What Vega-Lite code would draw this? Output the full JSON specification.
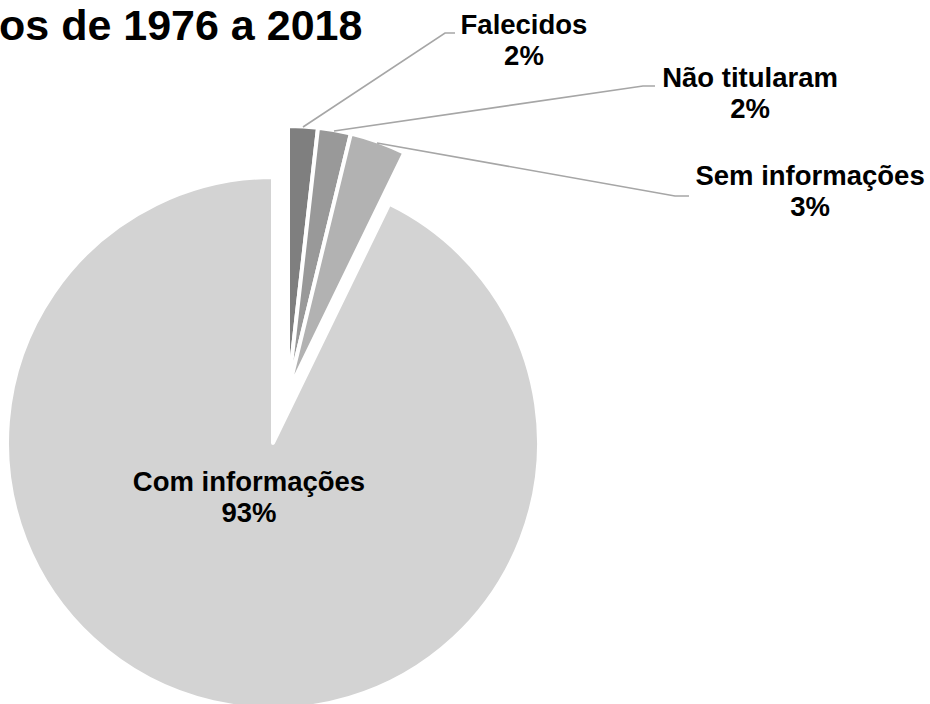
{
  "$schema": "https://vega.github.io/schema/vega-lite/v6.json",
  "width": 532,
  "height": 532,
  "autosize": {"type": "none"},
  "padding": {"left": 7, "top": 177, "right": 391, "bottom": 0},
  "background": "white",
  "title": {
    "text": "os de 1976 a 2018",
    "anchor": "start",
    "frame": "group",
    "font": "Liberation Sans",
    "fontSize": 43,
    "fontWeight": "bold",
    "color": "#000000",
    "baseline": "alphabetic",
    "offset": 0,
    "dx": -8,
    "dy": 71
  },
  "datasets": {
    "shares": [
      {"category": "Falecidos", "share": 0.018},
      {"category": "Não titularam", "share": 0.020},
      {"category": "Sem informações", "share": 0.034},
      {"category": "Com informações", "share": 0.928}
    ],
    "leaders": [
      {"category": "Falecidos", "vertex": 0},
      {"category": "Falecidos", "vertex": 1},
      {"category": "Falecidos", "vertex": 2},
      {"category": "Não titularam", "vertex": 3},
      {"category": "Não titularam", "vertex": 4},
      {"category": "Não titularam", "vertex": 5},
      {"category": "Sem informações", "vertex": 6},
      {"category": "Sem informações", "vertex": 7},
      {"category": "Sem informações", "vertex": 8}
    ]
  },
  "layer": [
    {
      "data": {"name": "shares"},
      "transform": [
        {"stack": "share", "groupby": [], "sort": [{"field": "share", "order": "ascending"}], "as": ["start", "end"]},
        {"filter": "datum.category === 'Com informações'"}
      ],
      "mark": {"type": "arc", "stroke": "white", "strokeWidth": 4, "strokeJoin": "round"},
      "encoding": {
        "theta": {"field": "start", "type": "quantitative", "stack": null, "scale": {"domain": [0, 1], "range": [0, 6.283185307], "zero": false, "nice": false}},
        "theta2": {"field": "end"},
        "color": {"field": "category", "type": "nominal", "legend": null,
          "scale": {"domain": ["Falecidos", "Não titularam", "Sem informações", "Com informações"], "range": ["#7f7f7f", "#999999", "#b2b2b2", "#d3d3d3"]}}
      }
    },
    {
      "data": {"name": "shares"},
      "transform": [
        {"stack": "share", "groupby": [], "sort": [{"field": "share", "order": "ascending"}], "as": ["start", "end"]},
        {"filter": "datum.category !== 'Com informações'"}
      ],
      "mark": {"type": "arc", "stroke": "white", "strokeWidth": 4, "strokeJoin": "round", "xOffset": 15, "yOffset": -51},
      "encoding": {
        "theta": {"field": "start", "type": "quantitative", "stack": null, "scale": {"domain": [0, 1], "range": [0, 6.283185307], "zero": false, "nice": false}},
        "theta2": {"field": "end"},
        "color": {"field": "category", "type": "nominal", "legend": null,
          "scale": {"domain": ["Falecidos", "Não titularam", "Sem informações", "Com informações"], "range": ["#7f7f7f", "#999999", "#b2b2b2", "#d3d3d3"]}}
      }
    },
    {
      "data": {"name": "leaders"},
      "mark": {"type": "line", "color": "#a6a6a6", "strokeWidth": 1.6},
      "encoding": {
        "x": {"field": "vertex", "type": "quantitative", "axis": null,
          "scale": {"domain": [0, 1, 2, 3, 4, 5, 6, 7, 8], "range": [296, 438, 448, 327, 636, 648, 370, 668, 682], "zero": false, "nice": false}},
        "y": {"field": "vertex", "type": "quantitative", "axis": null,
          "scale": {"domain": [0, 1, 2, 3, 4, 5, 6, 7, 8], "range": [-50, -144, -144, -46, -91, -91, -34, 19, 19], "zero": false, "nice": false}},
        "detail": {"field": "category"},
        "order": {"field": "vertex"}
      }
    },
    {
      "data": {"name": "shares"},
      "mark": {"type": "text", "font": "Liberation Sans", "fontSize": 27.5, "fontWeight": "bold", "align": "center", "baseline": "alphabetic", "color": "#000000"},
      "encoding": {
        "theta": {"field": "share", "type": "quantitative", "stack": null,
          "scale": {"type": "linear", "domain": [0.018, 0.02, 0.034, 0.928], "range": [0.5503, 0.9297, 1.1230, 3.6052], "zero": false, "nice": false}},
        "radius": {"field": "share", "type": "quantitative",
          "scale": {"type": "linear", "domain": [0.018, 0.02, 0.034, 0.928], "range": [479.9, 595.2, 595.8, 53.7], "zero": false, "nice": false}},
        "text": {"field": "category"}
      }
    },
    {
      "data": {"name": "shares"},
      "mark": {"type": "text", "font": "Liberation Sans", "fontSize": 27.5, "fontWeight": "bold", "align": "center", "baseline": "alphabetic", "color": "#000000", "dy": 31},
      "encoding": {
        "theta": {"field": "share", "type": "quantitative", "stack": null,
          "scale": {"type": "linear", "domain": [0.018, 0.02, 0.034, 0.928], "range": [0.5503, 0.9297, 1.1230, 3.6052], "zero": false, "nice": false}},
        "radius": {"field": "share", "type": "quantitative",
          "scale": {"type": "linear", "domain": [0.018, 0.02, 0.034, 0.928], "range": [479.9, 595.2, 595.8, 53.7], "zero": false, "nice": false}},
        "text": {"field": "share", "type": "quantitative", "format": ".0%"}
      }
    }
  ],
  "resolve": {"scale": {"theta": "independent", "radius": "independent"}},
  "config": {"view": {"stroke": null}}
}
